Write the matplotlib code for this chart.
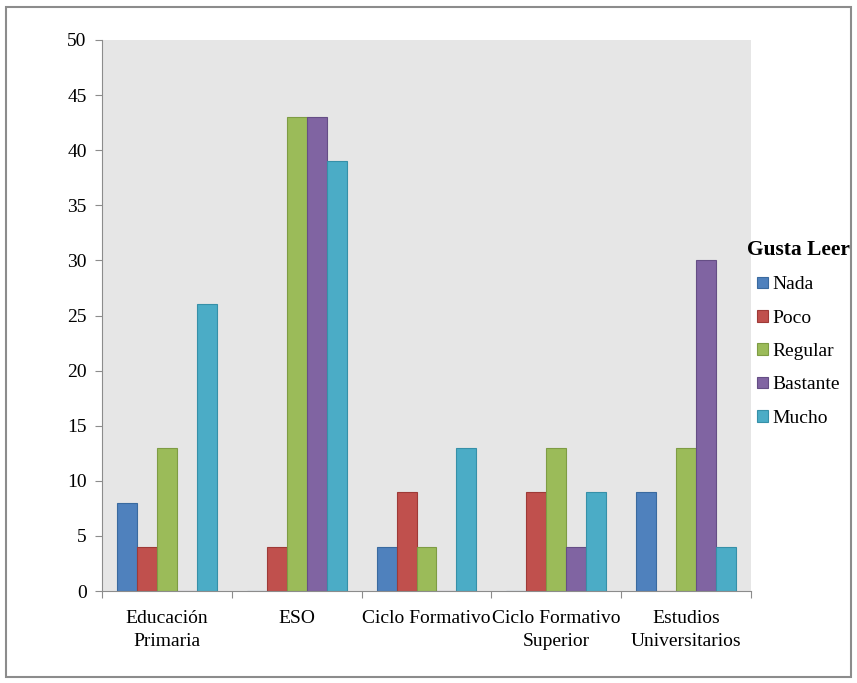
import matplotlib.pyplot as plt
import numpy as np
from matplotlib.patches import Rectangle

plt.rcParams['font.family'] = ['Liberation Serif', 'DejaVu Serif']

# datos
categorias = ['Educación\nPrimaria', 'ESO', 'Ciclo Formativo', 'Ciclo Formativo\nSuperior',
              'Estudios\nUniversitarios']
series = ['Nada', 'Poco', 'Regular', 'Bastante', 'Mucho']
nada = [8, 0, 4, 0, 9]
poco = [4, 4, 9, 9, 0]
regular = [13, 43, 4, 13, 13]
bastante = [0, 43, 0, 4, 30]
mucho = [26, 39, 13, 9, 4]
valores = [nada, poco, regular, bastante, mucho]

colores = ['#4F81BD', '#C0504D', '#9BBB59', '#8064A2', '#4BACC6']
bordes = ['#3A6A9F', '#9E3A37', '#7E9C44', '#654E85', '#3690A8']

fig = plt.figure(figsize=(8.57, 6.83), dpi=100)
ax = fig.add_axes([102 / 857, 92 / 683, 649 / 857, 551 / 683])
ax.set_facecolor('#E6E6E6')

# marco exterior del gráfico
fig.patches.append(Rectangle((6 / 857, 6 / 683), 845 / 857, 670 / 683,
                             transform=fig.transFigure, fill=False,
                             edgecolor='#8C8C8C', linewidth=1.5))

x = np.arange(len(categorias))
ancho = 0.154
for i, (s, v) in enumerate(zip(series, valores)):
    ax.bar(x + (i - 2) * ancho, v, ancho, color=colores[i], edgecolor=bordes[i],
           linewidth=0.8, label=s, zorder=2)

ax.set_xlim(-0.5, len(categorias) - 0.5)
ax.set_ylim(0, 50)
ax.set_yticks(np.arange(0, 51, 5))
ax.set_xticks(np.arange(-0.5, len(categorias)), minor=False)
ax.set_xticklabels([])
ax.set_xticks(x, minor=True)
ax.set_xticklabels(categorias, minor=True, fontsize=14, linespacing=1.45)
ax.tick_params(axis='x', which='minor', length=0, pad=14)
ax.tick_params(axis='x', which='major', length=5, color='#8C8C8C')
ax.tick_params(axis='y', length=5, color='#8C8C8C', labelsize=14, pad=6)

for lado in ['top', 'right']:
    ax.spines[lado].set_visible(False)
for lado in ['left', 'bottom']:
    ax.spines[lado].set_color('#8C8C8C')

leg = fig.legend(title='Gusta Leer', loc='upper left',
                 bbox_to_anchor=(747 / 857, 1 - 240 / 683),
                 frameon=False, fontsize=14, borderpad=0, borderaxespad=0,
                 handlelength=0.55, handleheight=0.55, handletextpad=0.2,
                 labelspacing=0.84)
leg.get_title().set_fontweight('bold')
leg.get_title().set_fontsize(15.5)

fig.savefig('out.png', dpi=100, facecolor='white')
